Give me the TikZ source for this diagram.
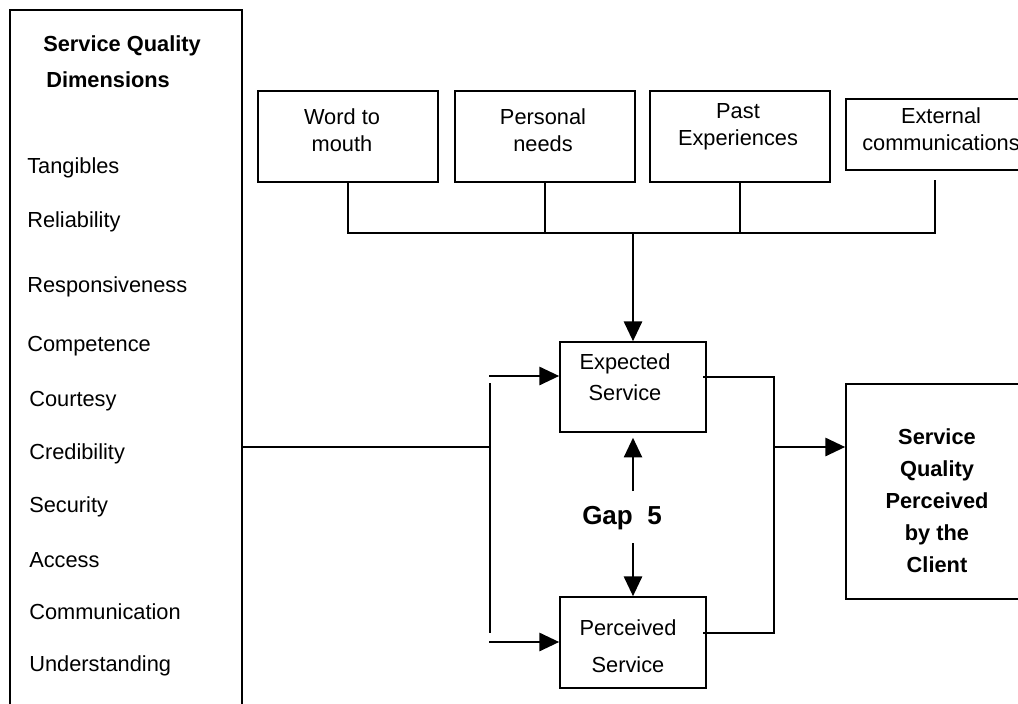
\documentclass[tikz,border=0pt]{standalone}
\usepackage{fontspec}
\setmainfont{Liberation Sans}
\usetikzlibrary{arrows.meta}

\begin{document}
\begin{tikzpicture}[
        x=0.025cm, y=-0.025cm,
        box/.style={rectangle, draw, line width=1.2pt},
        item/.style={anchor=west, inner sep=0pt, font=\fontsize{15.5}{19}\selectfont},
        head/.style={anchor=west, inner sep=0pt, font=\bfseries\fontsize{15.5}{19}\selectfont},
        txt/.style={align=center, inner sep=0pt, font=\fontsize{15.5}{19}\selectfont},
        line/.style={line width=1.2pt},
        arrow/.style={line width=1.2pt, -{Triangle[length=14pt,width=13pt]}}
    ]
    \clip (0,0) rectangle (1018,703);

    % Dimensions column
    \node[box, minimum width=5.8cm, minimum height=18cm] (dims) at (126,370) {};
    \node[head] (dims-t1) at (43,46) {Service Quality};
    \node[head] (dims-t2) at (46,80) {Dimensions};
    \node[item] (tang) at (27,168) {Tangibles};
    \node[item] (reli) at (27,222) {Reliability};
    \node[item] (resp) at (27,287) {Responsiveness};
    \node[item] (comp) at (27,346) {Competence};
    \node[item] (cour) at (29,401) {Courtesy};
    \node[item] (cred) at (29,454) {Credibility};
    \node[item] (secu) at (29,507) {Security};
    \node[item] (acce) at (29,560) {Access};
    \node[item] (comm) at (29,612) {Communication};
    \node[item] (unde) at (29,666) {Understanding};

    % Expectation sources
    \node[box, minimum width=4.5cm, minimum height=2.275cm] (w2m) at (348,136.5) {};
    \node[txt] (w2m-t) at (342,130) {Word to\\mouth};
    \node[box, minimum width=4.5cm, minimum height=2.275cm] (pn) at (545,136.5) {};
    \node[txt] (pn-t) at (543,130) {Personal\\needs};
    \node[box, minimum width=4.5cm, minimum height=2.275cm] (pe) at (740,136.5) {};
    \node[txt] (pe-t) at (738,127) {Past\\Experiences};
    \node[box, minimum width=4.45cm, minimum height=1.775cm] (ext) at (935,134.5) {};
    \node[txt] (ext-t) at (941,129) {External\\communications};

    \coordinate (bus) at (633,233);
    \coordinate (extfoot) at (935,180);
    \draw[line] (w2m.south) -- (w2m.south |- bus) -- (extfoot |- bus) -- (extfoot);
    \draw[line] (pn.south) -- (pn.south |- bus);
    \draw[line] (pe.south) -- (pe.south |- bus);

    % Gap 5
    \node[box, minimum width=3.65cm, minimum height=2.25cm] (exp) at (633,387) {};
    \node[txt, font=\fontsize{15.5}{22}\selectfont] (exp-t) at (625,377) {Expected\\Service};
    \node[box, minimum width=3.65cm, minimum height=2.275cm] (perc) at (633,642.5) {};
    \node[txt, font=\fontsize{15.5}{26}\selectfont] (perc-t) at (628,646) {Perceived\\Service};
    \node[font=\bfseries\fontsize{18.5}{22}\selectfont, inner sep=0pt] (gap) at (622,518) {Gap\ \ 5};

    \draw[arrow] (bus) -- (exp.north);
    \coordinate (gapup) at (633,491);
    \coordinate (gapdn) at (633,543);
    \draw[arrow, shorten >=3.5pt] (gapup) -- (gapup |- exp.south);
    \draw[arrow] (gapdn) -- (gapdn |- perc.north);

    % Outcome
    \node[box, minimum width=4.6cm, minimum height=5.375cm] (sq) at (938,491.5) {};
    \node[txt, font=\bfseries\fontsize{15.5}{22.8}\selectfont] (sq-t) at (937,501) {Service\\Quality\\Perceived\\by the\\Client};

    % left feed
    \coordinate (split) at (490,447);
    \coordinate (splittop) at (490,383);
    \coordinate (splitbot) at (490,633);
    \coordinate (inE) at (489,376);
    \coordinate (inP) at (489,642);
    \draw[line] (dims.east |- split) -- (split);
    \draw[line] (splittop) -- (splitbot);
    \draw[arrow] (inE) -- (inE -| exp.west);
    \draw[arrow] (inP) -- (inP -| perc.west);

    % right merge
    \coordinate (outE) at (703,377);
    \coordinate (outP) at (703,633);
    \coordinate (merge) at (774,447);
    \draw[line] (outE) -| (merge |- outP) -- (outP);
    \draw[arrow] (merge) -- (merge -| sq.west);
\end{tikzpicture}
\end{document}
